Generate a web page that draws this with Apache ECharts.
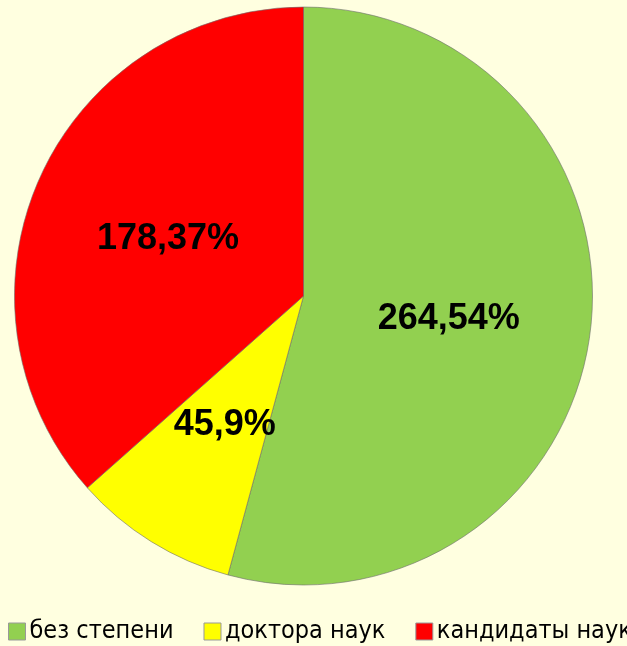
<!DOCTYPE html>
<html>
<head>
<meta charset="utf-8">
<script src="https://cdn.jsdelivr.net/npm/echarts@6/dist/echarts.min.js"></script>
<style>
  html, body { margin: 0; padding: 0; background: #FFFFE0; }
  #chart { width: 627px; height: 646px; }
</style>
</head>
<body>
<div id="chart"></div>
<script>
const categories = ['без степени', 'доктора наук', 'кандидаты наук'];
const values = [264, 45, 178];
const colors = ['#92D050', '#FFFF00', '#FF0000'];

const data = categories.map((name, i) => ({
    name: name,
    value: values[i],
    itemStyle: { color: colors[i] }
}));

let option = {
    backgroundColor: '#FFFFE0',
    animation: false,
    legend: {
        data: categories,
        left: 8,
        top: 619,
        padding: 0,
        width: 900,
        itemWidth: 17,
        itemHeight: 17,
        itemGap: 30,
        icon: 'rect',
        itemStyle: { borderColor: '#999', borderWidth: 1 },
        textStyle: {
            fontFamily: '"DejaVu Sans"',
            fontWeight: 'condensed',
            fontSize: 25,
            color: '#000',
            padding: [0, 0, 0, -1]
        }
    },
    series: [{
        type: 'pie',
        center: [303.5, 296],
        radius: 289,
        startAngle: 90,
        clockwise: true,
        percentPrecision: 0,
        data: data,
        itemStyle: {
            borderColor: 'rgba(110,110,110,0.6)',
            borderWidth: 1
        },
        label: {
            position: 'inside',
            formatter: '{c},{d}%',
            color: '#000',
            fontFamily: '"Liberation Sans", Arial, sans-serif',
            fontWeight: 'bold',
            fontSize: 36,
            offset: [-1, 4]
        },
        labelLine: { show: false },
        emphasis: { disabled: true }
    }]
};

let chartDom = document.getElementById('chart');
if (chartDom) {
    let myChart = echarts.init(chartDom);
    option && myChart.setOption(option);
}
</script>
</body>
</html>
